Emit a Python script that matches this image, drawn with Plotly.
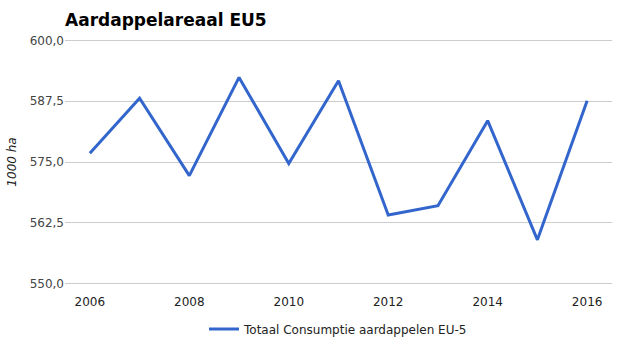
import plotly.graph_objects as go

years = [2006, 2007, 2008, 2009, 2010, 2011, 2012, 2013, 2014, 2015, 2016]
values = [576.8, 588.1, 572.2, 592.4, 574.7, 591.7, 564.1, 566.0, 583.5, 559.0, 587.6]
y_ticks = [550, 562.5, 575, 587.5, 600]
x_ticks = [2006, 2008, 2010, 2012, 2014, 2016]
series_name = "Totaal Consumptie aardappelen EU-5"

fig = go.Figure()
fig.add_trace(go.Scatter(
    x=years, y=values, mode="lines", name=series_name,
    line=dict(color="#3366CC", width=3),
))

fig.update_layout(
    width=625, height=355,
    margin=dict(l=65, r=13, t=38, b=69, autoexpand=False),
    paper_bgcolor="white", plot_bgcolor="white",
    separators=",.",
    font=dict(family="DejaVu Sans", size=12, color="#444444"),
    title=dict(text="<b>Aardappelareaal EU5</b>", x=65/625, xanchor="left",
               xref="container", yref="container",
               y=1 - 20/355, yanchor="middle", automargin=False,
               font=dict(family="DejaVu Sans", size=17, color="#000000")),
    showlegend=True,
    legend=dict(orientation="h", x=0.5, xanchor="center", y=-0.115, yanchor="top",
                font=dict(size=12, color="#222222")),
    xaxis=dict(range=[2005.5, 2016.5], tickvals=x_ticks, showgrid=False,
               zeroline=False, showline=False, ticks="outside", ticklen=5,
               tickcolor="rgba(0,0,0,0)", automargin=False,
               tickfont=dict(color="#222222", size=12)),
    yaxis=dict(range=[549.5, 600.5], tickvals=y_ticks, tickformat=".1f",
               showgrid=True, gridcolor="#CCCCCC", gridwidth=1, zeroline=False,
               showline=False, ticks="", automargin=False,
               tickfont=dict(color="#444444", size=12),
               title=dict(text="<i>1000 ha</i>", font=dict(size=12, color="#222222"),
                          standoff=10)),
)

fig.write_html("out.html", config={"displayModeBar": False},
               post_script="document.body.style.margin='0';document.body.style.overflow='hidden';")
